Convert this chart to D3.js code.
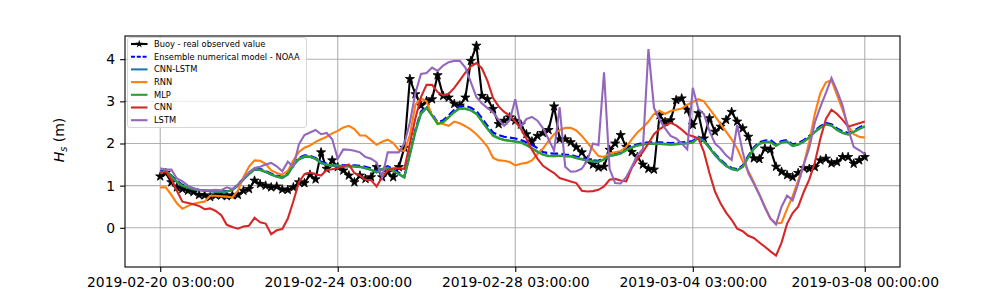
<!doctype html>
<html lang="en">
<head>
<meta charset="utf-8">
<title>Significant wave height - buoy vs models</title>
<script src="https://d3js.org/d3.v7.min.js"></script>
<style>
  body { margin: 0; background: #fff; }
  svg { display: block; font-family: 'DejaVu Sans', sans-serif; }
</style>
</head>
<body>
<script>
// x axis is the sample index (3-hourly), only some of them get a label
var tickIdx = [0, 32, 64, 96, 127];
var tickLabels = ['2019-02-20 03:00:00', '2019-02-24 03:00:00', '2019-02-28 03:00:00',
                  '2019-03-04 03:00:00', '2019-03-08 00:00:00'];
var yTicks = [0, 1, 2, 3, 4];

// Hs (m)
var buoy = [1.22,1.30,1.08,0.96,0.92,0.88,0.85,0.78,0.77,0.73,
  0.77,0.77,0.75,0.77,0.78,0.88,0.92,1.12,1.04,1.00,
  0.96,0.98,0.91,0.90,0.96,1.08,1.06,1.26,1.15,1.79,
  1.40,1.60,1.44,1.36,1.24,1.08,1.24,1.16,1.20,1.44,
  1.20,1.32,1.20,1.44,1.90,3.53,3.17,2.90,3.01,3.05,
  3.62,3.13,3.09,2.94,2.90,3.09,3.96,4.32,3.13,3.05,
  2.82,2.46,2.54,2.62,2.54,2.45,2.22,2.05,2.18,2.25,
  2.32,2.88,2.10,2.10,2.03,1.91,1.79,1.60,1.50,1.43,
  1.45,1.85,2.00,2.20,1.92,1.80,1.68,1.50,1.40,1.38,
  2.67,2.51,2.55,3.03,3.07,2.80,2.44,2.72,2.12,2.60,
  2.28,2.40,2.56,2.75,2.52,2.36,2.16,1.65,1.63,1.88,
  1.86,1.45,1.33,1.25,1.20,1.30,1.42,1.40,1.44,1.60,
  1.64,1.53,1.56,1.68,1.68,1.52,1.60,1.68];

var noaa = [1.34,1.36,1.24,1.12,1.02,0.97,0.93,0.90,0.89,0.88,
  0.87,0.87,0.87,0.91,1.03,1.17,1.30,1.40,1.40,1.35,
  1.29,1.24,1.21,1.30,1.52,1.66,1.72,1.71,1.66,1.57,
  1.52,1.50,1.50,1.48,1.49,1.48,1.47,1.45,1.41,1.35,
  1.42,1.46,1.39,1.31,1.22,1.78,2.33,2.76,2.89,2.70,
  2.50,2.55,2.67,2.80,2.89,2.89,2.85,2.77,2.60,2.42,
  2.26,2.20,2.16,2.14,2.12,2.08,2.03,1.97,1.89,1.80,
  1.77,1.76,1.76,1.74,1.73,1.69,1.66,1.62,1.60,1.59,
  1.66,1.74,1.76,1.79,1.87,1.93,1.98,2.01,2.03,2.03,
  2.03,2.02,2.01,2.02,2.03,2.04,2.06,2.16,2.08,1.92,
  1.76,1.62,1.50,1.42,1.39,1.48,1.71,1.91,2.03,2.07,
  2.08,1.98,2.06,2.08,1.98,2.01,2.08,2.18,2.31,2.41,
  2.49,2.46,2.36,2.29,2.25,2.30,2.38,2.44];

var cnnLstm = [1.30,1.35,1.21,1.08,0.99,0.95,0.91,0.89,0.88,0.87,
  0.85,0.85,0.86,0.89,1.00,1.14,1.27,1.38,1.37,1.32,
  1.26,1.21,1.18,1.26,1.48,1.62,1.68,1.68,1.63,1.53,
  1.49,1.47,1.47,1.45,1.46,1.45,1.44,1.41,1.37,1.31,
  1.38,1.42,1.35,1.27,1.19,1.72,2.27,2.70,2.84,2.67,
  2.47,2.51,2.63,2.75,2.84,2.83,2.79,2.71,2.54,2.36,
  2.20,2.13,2.09,2.07,2.05,2.03,1.97,1.89,1.81,1.74,
  1.71,1.70,1.71,1.70,1.69,1.65,1.62,1.59,1.57,1.56,
  1.62,1.70,1.73,1.76,1.85,1.91,1.96,1.98,2.00,2.00,
  2.00,1.99,1.98,1.99,2.00,2.01,2.03,2.13,2.05,1.89,
  1.72,1.58,1.46,1.39,1.36,1.44,1.67,1.87,1.99,2.03,
  2.03,1.95,2.02,2.04,1.94,1.97,2.04,2.14,2.27,2.37,
  2.45,2.42,2.32,2.25,2.21,2.27,2.34,2.40];

var rnn = [0.96,0.96,0.78,0.58,0.45,0.52,0.57,0.60,0.62,0.76,
  0.76,0.75,0.74,0.72,0.88,1.20,1.45,1.60,1.59,1.52,
  1.36,1.30,1.26,1.35,1.60,1.80,1.90,1.95,2.04,2.10,
  2.16,2.24,2.30,2.38,2.42,2.34,2.19,2.19,2.08,1.97,
  2.04,2.09,2.01,1.85,1.82,2.20,2.92,3.07,3.00,2.66,
  2.49,2.46,2.42,2.52,2.48,2.41,2.33,2.22,2.08,1.92,
  1.66,1.60,1.59,1.56,1.48,1.52,1.54,1.60,1.75,1.88,
  2.06,2.22,2.32,2.37,2.37,2.31,2.18,2.02,1.86,1.70,
  1.68,1.76,1.79,1.82,1.92,2.10,2.26,2.38,2.52,2.70,
  2.78,2.70,2.77,2.80,2.83,2.92,2.98,3.05,3.00,2.82,
  2.65,2.46,2.28,2.10,1.88,1.58,1.35,1.08,0.80,0.50,
  0.22,0.10,0.12,0.45,0.75,1.12,1.50,2.05,2.70,3.20,
  3.45,3.50,3.15,2.80,2.42,2.22,2.16,2.14];

var mlp = [1.32,1.36,1.22,1.10,1.00,0.96,0.92,0.90,0.89,0.88,
  0.86,0.86,0.86,0.90,1.02,1.16,1.28,1.39,1.38,1.33,
  1.27,1.22,1.19,1.28,1.50,1.64,1.70,1.69,1.64,1.54,
  1.50,1.48,1.48,1.46,1.47,1.46,1.45,1.42,1.38,1.32,
  1.40,1.43,1.36,1.28,1.20,1.75,2.30,2.72,2.85,2.66,
  2.46,2.50,2.62,2.74,2.83,2.82,2.78,2.70,2.52,2.34,
  2.18,2.12,2.08,2.06,2.04,2.02,1.96,1.88,1.80,1.73,
  1.70,1.70,1.71,1.70,1.70,1.66,1.63,1.60,1.58,1.57,
  1.63,1.71,1.73,1.76,1.84,1.90,1.95,1.97,1.99,1.99,
  1.99,1.98,1.97,1.98,1.99,2.00,2.02,2.14,2.06,1.90,
  1.74,1.60,1.48,1.40,1.37,1.45,1.68,1.88,2.00,2.04,
  2.04,1.94,2.03,2.05,1.95,1.98,2.05,2.15,2.28,2.38,
  2.46,2.43,2.33,2.26,2.22,2.28,2.35,2.41];

var cnn = [1.29,1.33,1.15,0.88,0.62,0.59,0.56,0.52,0.44,0.46,
  0.40,0.30,0.07,0.02,-0.02,0.03,0.05,0.24,0.13,0.10,
  -0.15,-0.06,-0.03,0.22,0.63,1.08,1.27,1.31,1.27,1.24,
  1.37,1.39,1.42,1.46,1.50,1.30,1.24,1.14,1.13,0.98,
  1.20,1.36,1.41,1.41,1.40,2.00,2.60,3.10,3.39,3.39,
  3.22,3.14,3.18,3.32,3.50,3.68,3.83,3.91,3.78,3.48,
  3.08,2.88,2.75,2.66,2.52,2.35,2.12,1.85,1.64,1.47,
  1.38,1.30,1.18,1.14,1.10,1.06,0.88,0.86,0.87,0.90,
  0.98,1.14,1.16,1.12,1.10,1.42,1.63,1.80,2.00,2.22,
  2.34,2.42,2.49,2.43,2.33,2.21,2.17,2.12,1.80,1.30,
  0.86,0.58,0.36,0.19,-0.02,-0.08,-0.19,-0.24,-0.35,-0.45,
  -0.56,-0.66,-0.35,0.10,0.35,0.50,0.85,1.15,1.55,2.12,
  2.58,2.80,2.70,2.56,2.40,2.44,2.48,2.52];

var lstm = [1.41,1.38,1.38,1.17,1.10,1.00,0.94,0.90,0.89,0.89,
  0.90,0.89,0.96,0.92,1.02,1.16,1.32,1.42,1.45,1.50,
  1.54,1.46,1.34,1.57,1.45,1.98,2.20,2.26,2.32,2.22,
  2.25,2.10,1.64,1.86,1.85,1.83,1.79,1.68,1.64,1.55,
  1.20,1.79,1.79,1.79,2.00,2.50,3.20,3.65,3.67,3.80,
  3.72,3.85,3.93,3.96,3.96,3.80,3.45,3.10,2.95,2.84,
  2.74,2.56,2.42,2.55,3.05,2.40,2.58,2.63,2.54,2.36,
  2.10,1.83,2.86,1.45,1.33,1.34,1.40,1.60,2.00,1.96,
  3.69,1.40,1.06,1.05,1.20,1.45,1.72,1.87,4.24,2.85,
  2.57,2.36,2.18,2.12,2.00,1.86,3.32,2.82,2.70,2.30,
  2.00,1.88,1.72,1.61,2.44,1.80,1.30,1.05,0.78,0.48,
  0.22,0.08,0.50,0.76,0.65,1.05,1.50,1.90,2.50,2.87,
  3.20,3.55,3.25,2.90,2.35,1.92,1.84,1.75];

// plot order = legend order
var series = [
  {name: 'Buoy - real observed value', values: buoy, color: '#000000', star: true},
  {name: 'Ensemble numerical model - NOAA', values: noaa, color: '#0000ff', dash: '7.7,3.3'},
  {name: 'CNN-LSTM', values: cnnLstm, color: '#1f77b4'},
  {name: 'RNN', values: rnn, color: '#ff7f0e'},
  {name: 'MLP', values: mlp, color: '#2ca02c'},
  {name: 'CNN', values: cnn, color: '#d62728'},
  {name: 'LSTM', values: lstm, color: '#9467bd'}
];

var width = 1000,
    height = 300;
// axes box in pixels (matplotlib default subplot params for a 10x3 figure)
var axLeft = 125, axRight = 900, axTop = 36, axBottom = 267;

var svg = d3.select('body')
  .append('svg')
  .attr('width', width)
  .attr('height', height);

// 5% padding on both ends like matplotlib's autoscale
var n = buoy.length - 1;
var x = d3.scaleLinear().domain([-0.05 * n, n * 1.05]).range([axLeft, axRight]);
var y = d3.scaleLinear().domain([-0.93, 4.55]).range([axBottom, axTop]);

// grid
var grid = svg.append('g').attr('stroke', '#b0b0b0').attr('stroke-width', 1.1);
grid.selectAll('line.gx')
  .data(tickIdx)
  .enter().append('line')
  .attr('class', 'gx')
  .attr('x1', d => x(d)).attr('x2', d => x(d))
  .attr('y1', axTop).attr('y2', axBottom);
grid.selectAll('line.gy')
  .data(yTicks)
  .enter().append('line')
  .attr('class', 'gy')
  .attr('x1', axLeft).attr('x2', axRight)
  .attr('y1', d => y(d)).attr('y2', d => y(d));

// axes
var xAxis = svg.append('g')
  .attr('transform', 'translate(0,' + axBottom + ')')
  .call(d3.axisBottom(x).tickValues(tickIdx)
    .tickFormat((d, i) => tickLabels[i])
    .tickSize(4.9).tickPadding(4.9));
var yAxis = svg.append('g')
  .attr('transform', 'translate(' + axLeft + ',0)')
  .call(d3.axisLeft(y).tickValues(yTicks)
    .tickFormat(d3.format('d'))
    .tickSize(4.9).tickPadding(4.9));
[xAxis, yAxis].forEach(function(a) {
  a.attr('font-family', 'DejaVu Sans, sans-serif').attr('font-size', 13.9);
  a.select('.domain').remove();
  a.selectAll('.tick line').attr('stroke', '#000').attr('stroke-width', 1.1);
  a.selectAll('.tick text').attr('fill', '#000');
});

// lines
var line = d3.line()
  .x((d, i) => x(i))
  .y(d => y(d));

var plot = svg.append('g');
series.forEach(function(s) {
  plot.append('path')
    .datum(s.values)
    .attr('fill', 'none')
    .attr('stroke', s.color)
    .attr('stroke-width', 2.1)
    .attr('stroke-dasharray', s.dash || null)
    .attr('d', line);
  if (s.star) {
    plot.selectAll('path.star')
      .data(s.values)
      .enter().append('path')
      .attr('class', 'star')
      .attr('d', d3.symbol().type(d3.symbolStar).size(26))
      .attr('transform', (d, i) => 'translate(' + x(i) + ',' + y(d) + ')')
      .attr('fill', s.color)
      .attr('stroke', s.color)
      .attr('stroke-width', 0.8);
  }
});

// spines
svg.append('rect')
  .attr('x', axLeft).attr('y', axTop)
  .attr('width', axRight - axLeft).attr('height', axBottom - axTop)
  .attr('fill', 'none')
  .attr('stroke', '#000')
  .attr('stroke-width', 1.1);

// legend
var legend = svg.append('g');
legend.append('rect')
  .attr('x', 127.5).attr('y', 37.5)
  .attr('width', 179).attr('height', 90)
  .attr('rx', 2.5)
  .attr('fill', '#fff').attr('fill-opacity', 0.8)
  .attr('stroke', '#cccccc').attr('stroke-opacity', 0.8)
  .attr('stroke-width', 1);

var rows = legend.selectAll('g.row')
  .data(series)
  .enter().append('g')
  .attr('class', 'row')
  .attr('transform', (d, i) => 'translate(0,' + (44 + i * 12.7) + ')');
rows.append('line')
  .attr('x1', 131).attr('x2', 147.5)
  .attr('stroke', d => d.color)
  .attr('stroke-width', 2.1)
  .attr('stroke-dasharray', d => d.dash ? '4,1.8' : null);
rows.filter(d => d.star).append('path')
  .attr('d', d3.symbol().type(d3.symbolStar).size(20))
  .attr('transform', 'translate(139.2,0)')
  .attr('fill', '#000');
rows.append('text')
  .attr('x', 154)
  .attr('dy', '0.35em')
  .attr('font-size', 8.3)
  .attr('fill', '#000')
  .text(d => d.name);

// y label  H_s (m)
var ylab = svg.append('text')
  .attr('transform', 'translate(64,140) rotate(-90)')
  .attr('text-anchor', 'middle')
  .attr('font-size', 14)
  .attr('fill', '#000');
ylab.append('tspan').attr('font-style', 'italic').text('H');
ylab.append('tspan').attr('font-style', 'italic').attr('font-size', 9.8).attr('dy', 3).text('s');
ylab.append('tspan').attr('dy', -3).text(' (m)');
</script>
</body>
</html>
